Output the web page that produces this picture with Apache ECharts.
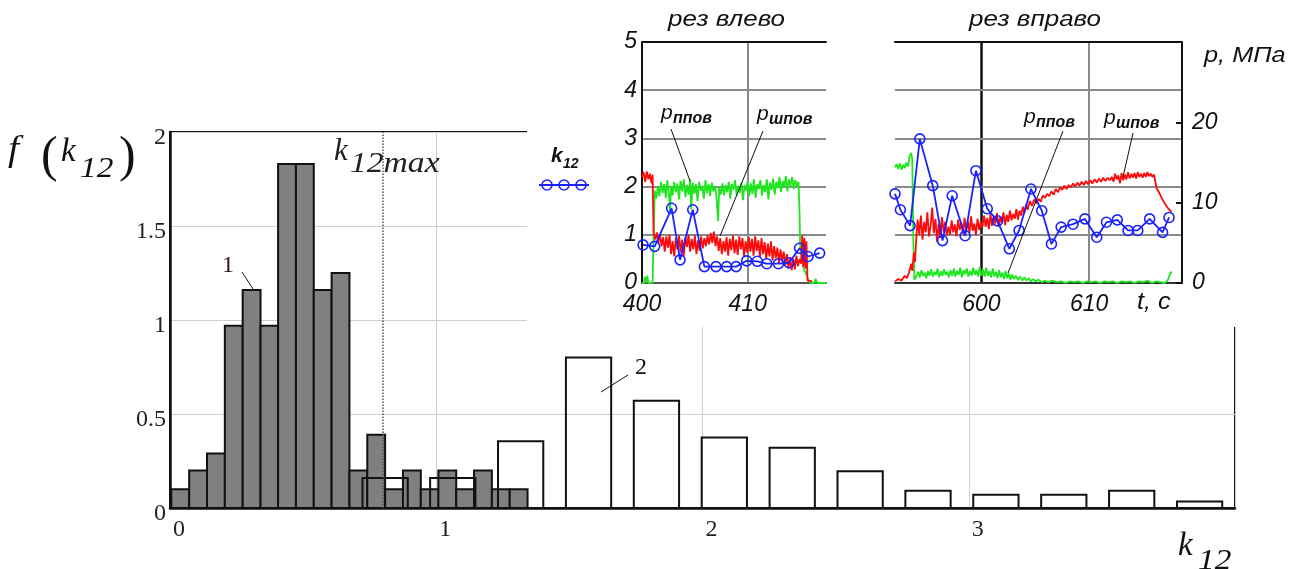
<!DOCTYPE html>
<html><head><meta charset="utf-8">
<script src="https://cdn.jsdelivr.net/npm/echarts@6/dist/echarts.min.js"></script>
<style>html,body{margin:0;padding:0;background:#fff}#c{width:1301px;height:569px}</style>
</head><body><div id="c"></div>
<script>
// ---------- main histogram data ----------
const hist1BinWidth = 0.067;
const hist1Start = [0.005,0.072,0.139,0.206,0.273,0.340,0.406,0.473,0.540,0.607,0.674,0.741,0.808,0.875,0.942,1.008,1.075,1.142,1.209,1.276];
const hist1Height = [0.10,0.20,0.29,0.97,1.16,0.97,1.83,1.83,1.16,1.25,0.20,0.39,0.10,0.20,0.10,0.20,0.10,0.20,0.10,0.10];
const hist2BinWidth = 0.17;
const hist2Start = [0.723,0.977,1.232,1.487,1.742,1.997,2.252,2.507,2.762,3.017,3.272,3.527,3.782];
const hist2Height = [0.16,0.16,0.355,0.80,0.57,0.375,0.32,0.195,0.092,0.071,0.071,0.092,0.035];
const k12max = 0.80;
const mainXLabels = [0,1,2,3];
const mainYLabels = [0,0.5,1,1.5,2];

// ---------- inset "рез влево" (t, s ; p, MPa ; k12) ----------
const leftTimeLabels = [400,410];
const kLabels = [0,1,2,3,4,5];
const leftRed = [[400.0,13.2],[400.15,13.8],[400.3,12.6],[400.45,13.9],[400.6,12.9],[400.75,13.6],[400.9,12.4],[401.0,13.5],[401.1,6.2],[401.25,5.4],[401.4,6.3],[401.55,5.0],[401.7,6.1],[401.85,4.6],[402.0,5.7],[402.15,3.9],[402.3,5.8],[402.45,4.4],[402.6,6.0],[402.75,3.6],[402.9,5.2],[403.05,3.3],[403.2,5.6],[403.35,4.2],[403.5,5.9],[403.65,3.8],[403.8,5.4],[403.95,3.4],[404.1,5.7],[404.25,4.5],[404.4,6.0],[404.55,3.9],[404.7,5.5],[404.85,4.2],[405.0,5.9],[405.15,3.6],[405.3,5.3],[405.45,4.0],[405.6,5.8],[405.75,4.3],[405.9,5.6],[406.05,4.6],[406.2,5.9],[406.35,4.8],[406.5,6.2],[406.65,5.0],[406.8,6.4],[406.95,4.6],[407.1,5.8],[407.25,4.0],[407.4,5.6],[407.55,3.6],[407.7,5.2],[407.85,3.9],[408.0,5.7],[408.15,3.4],[408.3,5.5],[408.45,4.1],[408.6,5.9],[408.75,3.7],[408.9,5.4],[409.05,3.5],[409.2,5.8],[409.35,4.2],[409.5,5.6],[409.65,3.3],[409.8,5.2],[409.95,3.8],[410.1,5.7],[410.25,3.9],[410.4,5.5],[410.55,3.4],[410.7,5.8],[410.85,4.0],[411.0,5.3],[411.15,3.2],[411.3,5.6],[411.45,3.6],[411.6,5.1],[411.75,3.0],[411.9,4.9],[412.05,3.3],[412.2,5.2],[412.35,2.8],[412.5,4.6],[412.65,3.1],[412.8,4.4],[412.95,2.5],[413.1,4.2],[413.25,2.7],[413.4,3.9],[413.55,2.2],[413.7,3.6],[413.85,1.8],[414.0,3.2],[414.15,1.6],[414.3,3.0],[414.45,1.7],[414.6,3.4],[414.75,2.1],[414.9,3.0],[415.05,2.4],[415.15,5.9],[415.25,2.0],[415.35,5.6],[415.45,1.8],[415.55,5.2],[415.65,0.3],[415.8,0.2],[416.1,0.2]];
const leftGreen = [[400.0,0],[400.2,0],[400.25,0.8],[400.35,0.1],[400.5,0.9],[400.6,0],[401.0,0],[401.15,0.2],[401.2,11.5],[401.35,10.5],[401.5,12.0],[401.65,10.8],[401.8,12.6],[401.95,11.2],[402.1,12.3],[402.25,10.6],[402.4,12.8],[402.55,11.0],[402.65,8.9],[402.75,12.1],[402.9,10.9],[403.05,12.6],[403.2,11.3],[403.35,12.4],[403.5,10.4],[403.65,12.7],[403.8,11.4],[403.95,12.9],[404.1,10.7],[404.25,12.2],[404.4,11.0],[404.55,12.9],[404.65,9.2],[404.8,12.5],[404.95,11.1],[405.1,12.3],[405.25,10.2],[405.4,12.6],[405.55,11.5],[405.7,12.1],[405.85,10.5],[406.0,12.8],[406.15,11.2],[406.3,12.3],[406.45,10.8],[406.6,12.5],[406.75,11.4],[406.9,12.1],[407.05,10.6],[407.2,7.7],[407.3,11.9],[407.45,11.0],[407.6,12.4],[407.75,10.9],[407.9,12.2],[408.05,11.3],[408.2,12.6],[408.35,10.5],[408.5,12.3],[408.65,11.6],[408.8,12.8],[408.95,10.9],[409.1,12.1],[409.25,11.2],[409.4,12.5],[409.55,10.3],[409.7,12.2],[409.85,11.5],[410.0,12.7],[410.15,10.8],[410.3,12.4],[410.45,11.1],[410.6,12.9],[410.75,10.6],[410.9,12.3],[411.05,11.7],[411.2,12.8],[411.35,10.9],[411.5,12.2],[411.65,11.3],[411.8,12.9],[411.95,10.4],[412.1,12.5],[412.25,11.6],[412.4,13.0],[412.55,11.0],[412.7,12.6],[412.85,11.8],[413.0,13.2],[413.15,11.3],[413.3,12.7],[413.45,11.9],[413.6,13.3],[413.75,11.4],[413.9,12.9],[414.05,12.1],[414.2,13.2],[414.35,11.7],[414.5,12.8],[414.65,12.0],[414.8,12.6],[414.9,8.7],[414.95,4.8],[415.1,3.0],[415.3,1.8],[415.5,1.2],[415.7,0.5],[415.9,0],[416.3,0],[416.4,0.5],[416.6,0],[417.4,0]];
const leftBlue = [[400.1,0.79],[401.2,0.76],[402.8,1.55],[403.6,0.48],[404.8,1.52],[405.9,0.34],[407.0,0.34],[408.0,0.34],[408.9,0.34],[409.9,0.46],[410.9,0.45],[411.8,0.40],[412.9,0.40],[413.9,0.42],[414.9,0.72],[415.7,0.55],[416.8,0.62]];

// ---------- inset "рез вправо" ----------
const rightTimeLabels = [600,610];
const pLabels = [0,10,20];
const rightRed = [[592.0,0.2],[592.3,0.5],[592.6,0.3],[592.9,0.9],[593.1,0.6],[593.3,1.3],[593.5,2.4],[593.6,1.5],[593.75,3.8],[593.85,2.6],[594.0,6.2],[594.1,7.9],[594.25,6.0],[594.4,8.4],[594.55,5.4],[594.7,7.6],[594.85,6.3],[595.0,8.8],[595.15,5.8],[595.3,7.1],[595.45,9.4],[595.6,6.2],[595.75,8.0],[595.9,5.1],[596.05,7.4],[596.2,5.6],[596.35,8.2],[596.5,6.4],[596.65,7.6],[596.8,5.9],[596.95,7.0],[597.1,6.0],[597.25,7.8],[597.4,6.3],[597.55,7.3],[597.7,5.8],[597.85,7.9],[598.0,6.6],[598.15,7.5],[598.3,6.1],[598.45,8.1],[598.6,6.4],[598.75,7.7],[598.9,6.2],[599.05,8.3],[599.2,6.5],[599.35,7.4],[599.5,6.0],[599.65,8.0],[599.8,6.6],[599.95,7.6],[600.1,6.9],[600.25,8.4],[600.4,7.0],[600.55,8.1],[600.7,6.7],[600.85,8.6],[601.0,7.1],[601.15,8.3],[601.3,7.4],[601.45,8.7],[601.6,7.0],[601.75,8.2],[601.9,7.5],[602.05,8.8],[602.2,7.2],[602.35,8.5],[602.5,7.6],[602.65,9.0],[602.8,7.8],[602.95,8.6],[603.1,8.0],[603.25,9.2],[603.4,7.9],[603.55,9.0],[603.7,8.4],[603.85,9.5],[604.0,8.7],[604.15,9.8],[604.3,9.1],[604.5,10.2],[604.7,9.6],[604.9,10.4],[605.1,9.9],[605.3,10.5],[605.5,10.1],[605.7,10.9],[605.9,10.6],[606.1,11.1],[606.3,10.8],[606.5,11.4],[606.7,11.0],[606.9,11.7],[607.1,11.3],[607.3,11.9],[607.5,11.6],[607.7,12.1],[607.9,11.7],[608.1,12.2],[608.3,11.9],[608.5,12.4],[608.7,12.0],[608.9,12.5],[609.1,12.1],[609.3,12.6],[609.5,12.2],[609.7,12.7],[609.9,12.3],[610.1,12.8],[610.3,12.4],[610.5,12.9],[610.7,12.5],[610.9,13.0],[611.1,12.6],[611.3,13.1],[611.5,12.7],[611.7,13.1],[611.9,12.8],[612.1,13.2],[612.25,12.6],[612.4,13.6],[612.55,12.9],[612.7,13.4],[612.85,12.4],[613.0,13.7],[613.15,12.8],[613.3,13.5],[613.45,12.9],[613.6,13.8],[613.75,13.0],[613.9,13.6],[614.05,13.1],[614.2,13.7],[614.35,13.0],[614.5,13.8],[614.65,13.2],[614.8,13.6],[614.95,13.1],[615.1,13.7],[615.25,13.2],[615.4,13.8],[615.55,13.3],[615.7,13.6],[615.85,13.2],[616.0,13.5],[616.15,13.4],[616.25,11.8],[616.5,11.2],[616.75,10.5],[617.0,9.9],[617.25,9.4],[617.5,9.0],[617.65,8.9]];
const rightGreen = [[592.0,14.4],[592.15,14.8],[592.3,14.2],[592.45,14.9],[592.6,14.1],[592.75,14.7],[592.9,14.3],[593.05,15.0],[593.2,14.5],[593.35,15.8],[593.5,16.2],[593.6,15.4],[593.7,5.0],[593.8,0.4],[594.0,0.9],[594.15,1.4],[594.3,0.7],[594.45,1.6],[594.6,0.9],[594.75,1.3],[594.9,0.6],[595.05,1.5],[595.2,0.9],[595.35,1.7],[595.5,0.8],[595.65,1.4],[595.8,1.0],[595.95,1.8],[596.1,0.7],[596.25,1.5],[596.4,0.9],[596.55,1.7],[596.7,1.0],[596.85,1.4],[597.0,0.7],[597.15,1.6],[597.3,0.9],[597.45,1.8],[597.6,0.8],[597.75,1.5],[597.9,1.0],[598.05,1.9],[598.2,0.7],[598.35,1.6],[598.5,1.1],[598.65,1.8],[598.8,0.8],[598.95,1.5],[599.1,0.9],[599.25,1.9],[599.4,1.0],[599.55,1.6],[599.7,0.8],[599.85,2.0],[600.0,0.9],[600.15,1.7],[600.3,0.8],[600.45,1.9],[600.6,0.9],[600.75,1.5],[600.9,0.7],[601.05,1.8],[601.2,0.8],[601.35,1.4],[601.5,0.6],[601.65,1.6],[601.8,0.7],[601.95,1.3],[602.1,0.5],[602.25,1.5],[602.4,0.6],[602.55,1.2],[602.7,0.4],[602.85,1.1],[603.0,0.5],[603.2,0.9],[603.4,0.4],[603.6,0.8],[603.8,0.3],[604.0,0.7],[604.2,0.3],[604.4,0.6],[604.6,0.2],[604.8,0.5],[605.0,0.2],[605.3,0.4],[605.6,0.1],[605.9,0.3],[606.2,0.1],[606.6,0.3],[607.0,0.1],[607.4,0.2],[607.8,0.0],[608.2,0.2],[608.6,0.1],[609.0,0.2],[609.4,0.0],[609.8,0.2],[610.2,0.1],[610.6,0.2],[611.0,0.0],[611.4,0.2],[611.8,0.1],[612.2,0.2],[612.6,0.0],[613.0,0.2],[613.4,0.1],[613.8,0.2],[614.2,0.0],[614.6,0.2],[615.0,0.1],[615.4,0.3],[615.8,0.0],[616.2,0.2],[616.6,0.1],[617.0,0.0],[617.3,0.4],[617.5,1.2],[617.65,1.4]];
const rightBlue = [[592.0,1.85],[592.5,1.52],[593.4,1.19],[594.3,2.99],[595.5,2.02],[596.4,0.88],[597.3,1.81],[598.5,0.98],[599.5,2.33],[600.55,1.54],[601.5,1.29],[602.6,0.71],[603.5,1.09],[604.6,1.95],[605.6,1.50],[606.5,0.81],[607.4,1.16],[608.5,1.22],[609.6,1.33],[610.7,0.95],[611.6,1.26],[612.6,1.31],[613.6,1.09],[614.5,1.09],[615.6,1.33],[616.8,1.05],[617.4,1.36]];
const cutMarks = [600,610];

// ---------- styles ----------
const SERIF = 'Liberation Serif', SANS = 'Liberation Sans';
const GREEN = '#1ee61e', RED = '#ff0a0a', BLUE = '#1a22ff';
const insetGrid = '#8a8a8a';

const chart = echarts.init(document.getElementById('c'), null, {renderer:'canvas'});

function barItem(fill){
  return function(params, api){
    const x0 = api.value(0), w = api.value(1), h = api.value(2);
    const a = api.coord([x0, h]), b = api.coord([x0 + w, 0]);
    return {type:'rect', shape:{x:a[0], y:a[1], width:b[0]-a[0], height:b[1]-a[1]},
      style:{fill:fill, stroke:'#111', lineWidth:2}};
  };
}
function T(x, y, text, font, opts){
  opts = opts || {};
  return {type:'text', x:x, y:y, z:30, silent:true, scaleX:opts.sx||1,
    style:{text:text, font:font, fill:opts.fill||'#111', align:opts.align||'left', verticalAlign:'middle',
      textAlign:opts.align||'left', textVerticalAlign:'middle'}};
}
function L(x1,y1,x2,y2,w){ return {type:'line', z:30, silent:true, shape:{x1:x1,y1:y1,x2:x2,y2:y2}, style:{stroke:'#111', lineWidth:w||1}}; }

const insetLabel = {fontFamily:SANS, fontStyle:'italic', fontSize:23, color:'#111'};

const option = {
  animation:false,
  backgroundColor:'#fff',
  grid:[
    {left:170, right:66, top:132, bottom:61, show:true, borderColor:'#111', borderWidth:2, backgroundColor:'transparent'},
    {left:642, right:475, top:42, bottom:286},
    {left:895, right:119, top:42, bottom:286}
  ],
  xAxis:[
    {gridIndex:0, type:'value', min:0, max:4, interval:1,
      axisLine:{show:true, lineStyle:{color:'#111', width:2.5}}, axisTick:{show:false},
      axisLabel:{customValues:mainXLabels, fontFamily:SERIF, fontSize:24, color:'#222', margin:10, align:'left', padding:[0,0,0,3]},
      splitLine:{show:true, lineStyle:{color:'#cfcfcf', width:1}}},
    {gridIndex:1, type:'value', min:400, max:417.4, interval:10, z:20,
      axisLine:{show:true, onZero:false, lineStyle:{color:'#555', width:2}}, axisTick:{show:false},
      axisLabel:Object.assign({customValues:leftTimeLabels, margin:10}, insetLabel),
      splitLine:{show:true, showMinLine:false, showMaxLine:false, lineStyle:{color:insetGrid, width:2}}},
    {gridIndex:1, type:'value', min:400, max:417.4, position:'top', z:20,
      axisLine:{show:true, onZero:false, lineStyle:{color:'#111', width:2}}, axisTick:{show:false}, axisLabel:{show:false}, splitLine:{show:false}},
    {gridIndex:2, type:'value', min:592, max:618.6, z:20,
      axisLine:{show:true, onZero:false, lineStyle:{color:'#333', width:2}}, axisTick:{show:false},
      axisLabel:Object.assign({customValues:rightTimeLabels, margin:10}, insetLabel),
      splitLine:{show:false}},
    {gridIndex:2, type:'value', min:592, max:618.6, position:'top', z:20,
      axisLine:{show:true, onZero:false, lineStyle:{color:'#111', width:2}}, axisTick:{show:false}, axisLabel:{show:false}, splitLine:{show:false}}
  ],
  yAxis:[
    {gridIndex:0, type:'value', min:0, max:2, interval:0.5,
      axisLine:{show:true, lineStyle:{color:'#111', width:2.5}}, axisTick:{show:false},
      axisLabel:{customValues:mainYLabels, fontFamily:SERIF, fontSize:24, color:'#222', margin:4, verticalAlign:'top', lineHeight:12},
      splitLine:{show:true, lineStyle:{color:'#cfcfcf', width:1}}},
    {gridIndex:1, type:'value', min:0, max:5, interval:1, z:20,
      axisLine:{show:true, onZero:false, lineStyle:{color:'#111', width:2}}, axisTick:{show:false},
      axisLabel:Object.assign({customValues:kLabels, margin:5}, insetLabel),
      splitLine:{show:true, showMinLine:false, showMaxLine:false, lineStyle:{color:insetGrid, width:2}}},
    {gridIndex:1, type:'value', min:0, max:30, show:false},
    {gridIndex:2, type:'value', min:0, max:5, interval:1, z:20,
      axisLine:{show:false}, axisTick:{show:false}, axisLabel:{show:false},
      splitLine:{show:true, showMinLine:false, showMaxLine:false, lineStyle:{color:insetGrid, width:2}}},
    {gridIndex:2, type:'value', min:0, max:30, interval:10, position:'right', z:20,
      axisLine:{show:true, onZero:false, lineStyle:{color:'#111', width:2}},
      axisTick:{show:true, inside:true, length:6, lineStyle:{color:'#111', width:2}},
      axisLabel:Object.assign({customValues:pLabels, margin:10}, insetLabel),
      splitLine:{show:false}}
  ],
  series:[
    {type:'custom', name:'1', xAxisIndex:0, yAxisIndex:0, z:2,
      renderItem:barItem('#808080'), encode:{x:0, y:2},
      data:hist1Start.map((s,i)=>[s, hist1BinWidth, hist1Height[i]])},
    {type:'custom', name:'2', xAxisIndex:0, yAxisIndex:0, z:3,
      renderItem:barItem('rgba(0,0,0,0)'), encode:{x:0, y:2},
      data:hist2Start.map((s,i)=>[s, hist2BinWidth, hist2Height[i]]),
      markLine:{silent:true, symbol:'none', label:{show:false},
        lineStyle:{type:'dotted', color:'#555', width:1.5},
        data:[{xAxis:k12max}]}},
    // left inset
    {type:'line', xAxisIndex:1, yAxisIndex:2, z:20, showSymbol:false, data:leftGreen,
      lineStyle:{color:GREEN, width:1.8}, itemStyle:{color:GREEN}},
    {type:'line', xAxisIndex:1, yAxisIndex:2, z:21, showSymbol:false, data:leftRed,
      lineStyle:{color:RED, width:1.8}, itemStyle:{color:RED}},
    {type:'line', xAxisIndex:1, yAxisIndex:1, z:22, symbol:'circle', symbolSize:10, data:leftBlue,
      lineStyle:{color:BLUE, width:1.8}, itemStyle:{color:'rgba(0,0,0,0)', borderColor:BLUE, borderWidth:1.6}},
    // right inset
    {type:'line', xAxisIndex:3, yAxisIndex:4, z:20, showSymbol:false, data:rightGreen,
      lineStyle:{color:GREEN, width:1.8}, itemStyle:{color:GREEN},
      markLine:{silent:true, z:19, symbol:'none', label:{show:false},
        data:[{xAxis:cutMarks[0], lineStyle:{color:'#111', width:2.5, type:'solid'}},
              {xAxis:cutMarks[1], lineStyle:{color:insetGrid, width:2, type:'solid'}}]}},
    {type:'line', xAxisIndex:3, yAxisIndex:4, z:21, showSymbol:false, data:rightRed,
      lineStyle:{color:RED, width:1.8}, itemStyle:{color:RED}},
    {type:'line', xAxisIndex:3, yAxisIndex:3, z:22, symbol:'circle', symbolSize:10, data:rightBlue,
      lineStyle:{color:BLUE, width:1.8}, itemStyle:{color:'rgba(0,0,0,0)', borderColor:BLUE, borderWidth:1.6}}
  ],
  graphic:[
    {type:'rect', z:10, silent:true, shape:{x:527, y:0, width:774, height:327}, style:{fill:'#fff'}},
    // main axis titles
    T(8, 151, 'f', 'italic 36px '+SERIF, {sx:1.1}),
    T(41, 158, '(', '50px '+SERIF),
    T(61, 152, 'k', 'italic 33px '+SERIF),
    T(80, 169, '12', 'italic 29px '+SERIF, {sx:1.15}),
    T(119, 158, ')', '50px '+SERIF),
    T(1178, 546, 'k', 'italic 33px '+SERIF),
    T(1198, 561, '12', 'italic 29px '+SERIF, {sx:1.15}),
    // k12max marker label
    T(334, 152, 'k', 'italic 31px '+SERIF, {fill:'#222'}),
    T(350, 164, '12max', 'italic 30px '+SERIF, {fill:'#222', sx:1.12}),
    // curve labels
    T(222, 266, '1', '24px '+SERIF, {fill:'#3a1010'}),
    L(242, 272, 253, 289, 1),
    T(635, 368, '2', '24px '+SERIF),
    L(601, 392, 628, 375, 1),
    // k12 legend
    T(551, 156, 'k', 'italic bold 21px '+SANS),
    T(563, 164, '12', 'italic bold 14px '+SANS),
    {type:'line', z:30, silent:true, shape:{x1:539,y1:185,x2:589,y2:185}, style:{stroke:BLUE, lineWidth:2}},
    {type:'circle', z:31, silent:true, shape:{cx:547,cy:185,r:5}, style:{fill:'rgba(0,0,0,0)', stroke:BLUE, lineWidth:1.6}},
    {type:'circle', z:31, silent:true, shape:{cx:564,cy:185,r:5}, style:{fill:'rgba(0,0,0,0)', stroke:BLUE, lineWidth:1.6}},
    {type:'circle', z:31, silent:true, shape:{cx:581,cy:185,r:5}, style:{fill:'rgba(0,0,0,0)', stroke:BLUE, lineWidth:1.6}},
    // inset titles
    T(668, 20, 'рез влево', 'italic 22px '+SANS, {sx:1.18}),
    T(969, 20, 'рез вправо', 'italic 22px '+SANS, {sx:1.18}),
    T(1137, 303, 't, c', 'italic 23px '+SANS, {sx:1.1}),
    T(1204, 56, 'p, МПа', 'italic 22px '+SANS, {sx:1.15}),
    // annotations left inset
    T(661, 113, 'p', 'italic 21px '+SANS),
    T(673, 119, 'ппов', 'italic bold 16px '+SANS),
    L(671, 129, 690, 181, 1),
    T(757, 114, 'p', 'italic 21px '+SANS),
    T(769, 120, 'шпов', 'italic bold 16px '+SANS),
    L(763, 131, 720, 236, 1),
    // annotations right inset
    T(1024, 117, 'p', 'italic 21px '+SANS),
    T(1036, 123, 'ппов', 'italic bold 16px '+SANS),
    L(1063, 131, 1008, 273, 1),
    T(1104, 118, 'p', 'italic 21px '+SANS),
    T(1116, 124, 'шпов', 'italic bold 16px '+SANS),
    L(1133, 133, 1123, 177, 1)
  ]
};
chart.setOption(option);
</script></body></html>
